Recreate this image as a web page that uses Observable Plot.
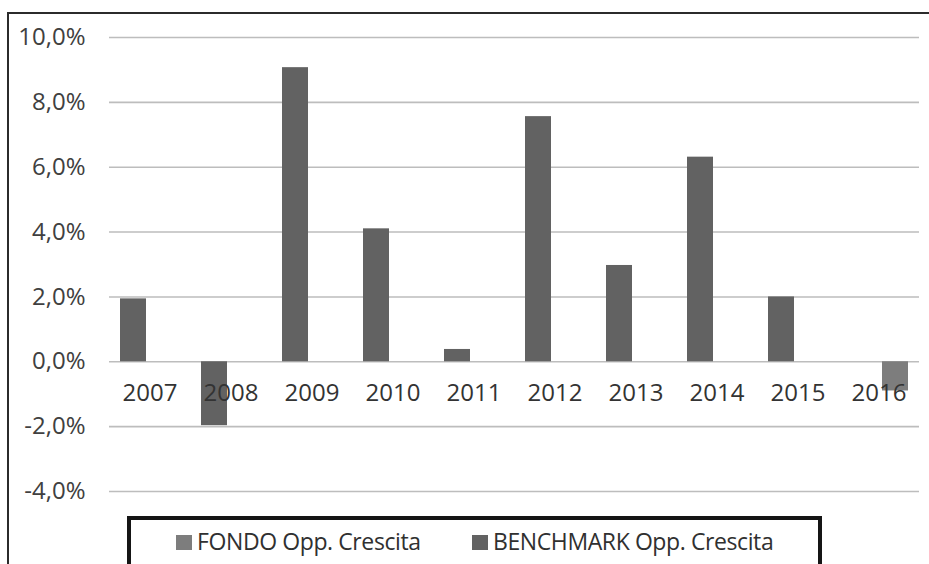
<!DOCTYPE html>
<html><head><meta charset="utf-8">
<script src="https://cdn.jsdelivr.net/npm/d3@7"></script>
<script src="https://cdn.jsdelivr.net/npm/@observablehq/plot@0.6"></script>
<style>
html,body{margin:0;padding:0;background:#fff;overflow:hidden;width:929px;height:564px}
#wrap{position:relative;width:929px;height:564px;font-family:"Open Sans",sans-serif;overflow:hidden}
#frame{position:absolute;left:7px;top:12px;width:960px;height:620px;border-left:2px solid #2b2b2b;border-top:2px solid #2b2b2b;box-sizing:border-box}
#chart{position:absolute;left:0;top:0}
#legend{position:absolute;left:127px;top:516px;width:695px;height:70px;border:4.5px solid #151515;box-sizing:border-box;background:#fff}
.sw{position:absolute;top:15px;width:16px;height:15px}
.lt{position:absolute;top:6px;font-size:23px;letter-spacing:-0.4px;color:#303030;line-height:30px;white-space:nowrap}
</style></head>
<body><div id="wrap"><div id="frame"></div><div id="chart"></div>
<div id="legend">
  <div class="sw" style="left:45px;background:#7d7d7d"></div><div class="lt" id="l1" style="left:66px"></div>
  <div class="sw" style="left:341px;background:#626262"></div><div class="lt" id="l2" style="left:362px"></div>
</div></div>
<script>
const years = ["2007","2008","2009","2010","2011","2012","2013","2014","2015","2016"];
const benchmark = [1.94, -1.97, 9.07, 4.10, 0.38, 7.56, 2.97, 6.31, 2.0, null];
const fondo = [null, null, null, null, null, null, null, null, null, -0.9];
const seriesNames = ["FONDO Opp. Crescita", "BENCHMARK Opp. Crescita"];
const seriesColors = ["#7d7d7d", "#626262"];
const yTicks = [-4, -2, 0, 2, 4, 6, 8, 10];

const rows = [];
years.forEach((y, i) => {
  if (benchmark[i] != null) rows.push({year: y, series: seriesNames[1], value: benchmark[i]});
  if (fondo[i] != null) rows.push({year: y, series: seriesNames[0], value: fondo[i]});
});

document.getElementById("l1").textContent = seriesNames[0];
document.getElementById("l2").textContent = seriesNames[1];

const fmt = d => d.toFixed(1).replace(".", ",") + "%";

const chart = Plot.plot({
  width: 929,
  height: 516,
  marginLeft: 108,
  marginRight: 10,
  marginTop: 37,
  marginBottom: 25,
  style: {fontFamily: "Open Sans, sans-serif", background: "transparent", overflow: "visible"},
  fx: {domain: years, padding: 0, axis: null},
  x: {domain: [seriesNames[1], seriesNames[0]], paddingInner: 0.21, paddingOuter: 0.33, axis: null},
  y: {domain: [-4, 10], ticks: yTicks, tickFormat: fmt, label: null},
  color: {domain: seriesNames, range: seriesColors},
  marks: [
    Plot.ruleY(yTicks, {stroke: "#bdbdbd", strokeWidth: 1.6}),
    Plot.barY(rows, {fx: "year", x: "series", y: "value", fill: "series"}),
    Plot.text(years, {fx: d => d, y: () => 0, text: d => d, dy: 32, fontSize: 24, fill: "#333"}),
    Plot.axisY({ticks: yTicks, tickFormat: fmt, tickSize: 0, tickPadding: 24, fontSize: 24, fill: "#404040", label: null, facetAnchor: "left"})
  ]
});
document.getElementById("chart").appendChild(chart);
</script></body></html>
